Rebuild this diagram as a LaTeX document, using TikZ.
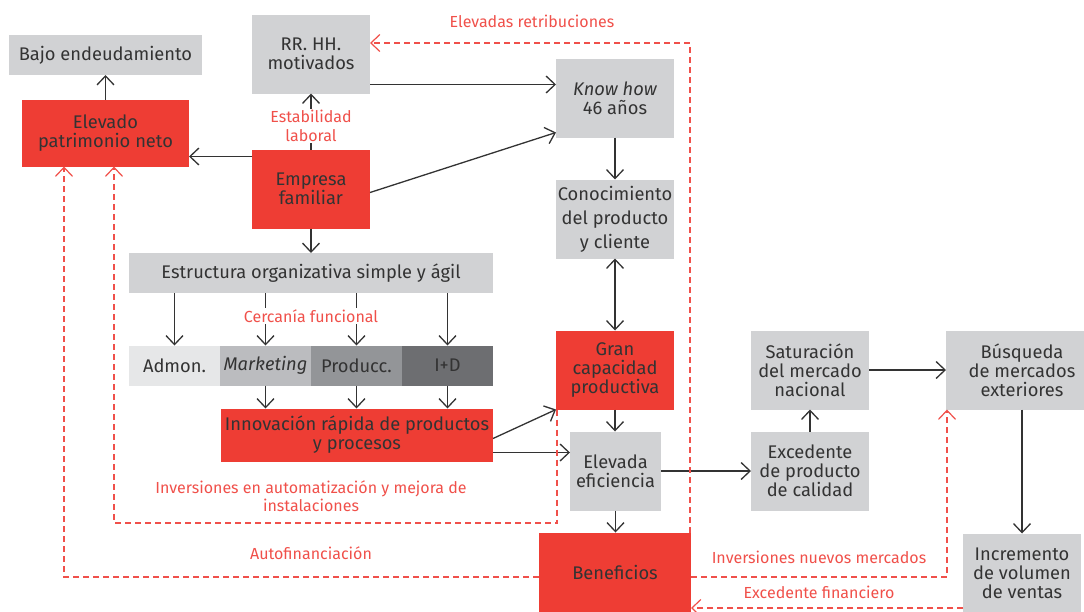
\documentclass[tikz,border=0pt]{standalone}
\usepackage{fontspec}
\setmainfont{Fira Sans}
\usetikzlibrary{arrows.meta,calc}
\definecolor{txt}{HTML}{333333}
\definecolor{boxred}{HTML}{EE3D34}
\definecolor{lblred}{HTML}{F0504A}
\definecolor{gboxc}{HTML}{D1D2D4}
\definecolor{cadm}{HTML}{E6E7E8}
\definecolor{cmkt}{HTML}{BBBCBF}
\definecolor{cprod}{HTML}{939598}
\definecolor{cid}{HTML}{6D6E71}
\begin{document}
\begin{tikzpicture}[x=1pt,y=-1pt,
  base/.style={inner sep=0pt, outer sep=0pt, align=center, text=txt, font=\fontsize{18.3}{19}\selectfont},
  gb/.style={base, fill=gboxc},
  rb/.style={base, fill=boxred},
  lbl/.style={text=lblred, font=\fontsize{16}{18.5}\selectfont, align=center, inner sep=1.5pt},
  tipa/.tip={Straight Barb[length=9pt,width=17pt]},
  arr/.style={draw=txt, line width=1.3pt, -tipa},
  rarr/.style={draw=lblred, line width=1.2pt, dash pattern=on 6pt off 4pt, -tipa},
]
\useasboundingbox (0,0) rectangle (1084,611);
% boxes
\node[gb, minimum width=193pt, minimum height=40pt] (bajo) at (105.5,55) {Bajo endeudamiento};
\node[rb, minimum width=167pt, minimum height=67pt] (elev) at (105.5,133) {Elevado\\patrimonio neto};
\node[gb, minimum width=118pt, minimum height=79pt] (rrhh) at (311,54) {RR. HH.\\motivados};
\node[rb, minimum width=118pt, minimum height=79pt] (emp) at (311,189) {Empresa\\familiar};
\node[gb, minimum width=364pt, minimum height=40pt] (estr) at (311,273) {Estructura organizativa simple y ágil};
\node[base, fill=cadm, minimum width=91pt, minimum height=40pt] (adm) at (174.5,365.5) {Admon.};
\node[base, fill=cmkt, minimum width=91pt, minimum height=40pt] (mkt) at (265.5,365.5) {\itshape Marketing};
\node[base, fill=cprod, minimum width=91pt, minimum height=40pt] (prod) at (356.5,365.5) {Producc.};
\node[base, fill=cid, minimum width=91pt, minimum height=40pt] (id) at (447.5,365.5) {I+D};
\node[rb, minimum width=272pt, minimum height=53pt] (inn) at (357,435) {Innovación rápida de productos\\y procesos};
\node[gb, minimum width=118pt, minimum height=79pt] (know) at (615,98) {\itshape Know how\\46 años};
\node[gb, minimum width=118pt, minimum height=79pt, font=\fontsize{18.3}{24}\selectfont] (cono) at (615,219) {Conocimiento\\del producto\\y cliente};
\node[rb, minimum width=118pt, minimum height=79pt] (gran) at (615,370) {Gran\\capacidad\\productiva};
\node[gb, minimum width=91pt, minimum height=79pt] (efic) at (615.5,471) {Elevada\\eficiencia};
\node[rb, minimum width=152pt, minimum height=79pt] (benef) at (615,572) {Beneficios};
\node[gb, minimum width=118pt, minimum height=79pt] (sat) at (810,370) {Saturación\\del mercado\\nacional};
\node[gb, minimum width=118pt, minimum height=79pt] (exc) at (810,471) {Excedente\\de producto\\de calidad};
\node[gb, minimum width=152pt, minimum height=79pt] (busq) at (1022,370) {Búsqueda\\de mercados\\exteriores};
\node[gb, minimum width=118pt, minimum height=79pt] (incr) at (1022,573) {Incremento\\de volumen\\de ventas};
% dark connectors
\draw[arr] (elev.north) -- (bajo.south);
\draw[arr] ([yshift=-7pt]emp.north west) -- ([yshift=-7pt]emp.north west -| elev.east);
\draw[arr] (emp.north) -- (rrhh.south);
\node[lbl, fill=white] (estab) at (311,126) {Estabilidad\\laboral};
\draw[arr] ([yshift=9pt]rrhh.south east) -- ([yshift=9pt]rrhh.south east -| know.west);
\draw[arr] ([yshift=-3.5pt]emp.east) -- ([yshift=5pt]know.south west);
\draw[arr] (emp.south) -- (estr.north);
\foreach \n in {adm,mkt,prod,id} \draw[arr] (estr.south -| \n.north) -- (\n.north);
\node[lbl, fill=white] (cerc) at (311,316) {Cercanía funcional};
\foreach \n in {mkt,prod,id} \draw[arr] (\n.south) -- (\n.south |- inn.north);
\draw[arr] ([yshift=-3.5pt]inn.east) -- (gran.south west);
\draw[arr] ([yshift=-21pt]efic.north west -| inn.east) -- ([yshift=-21pt]efic.north west);
\draw[arr] (know.south) -- (cono.north);
\draw[arr, tipa-tipa] (gran.north) -- (cono.south);
\draw[arr] (gran.south) -- (gran.south |- efic.north);
\draw[arr] (efic.south) -- (efic.south |- benef.north);
\draw[arr] (efic.east) -- (efic.east -| exc.west);
\draw[arr] (exc.north) -- (sat.south);
\draw[arr] (sat.east) -- (busq.west);
\draw[arr] (busq.south) -- (incr.north);
% red dashed loops
\coordinate (rt) at (690,43);
\draw[rarr] ([xshift=-1pt]benef.north east) -- ([xshift=-1pt]benef.north east |- rt) -- (rt -| rrhh.east);
\node[lbl] (lret) at (532,21) {Elevadas retribuciones};
\coordinate (ia) at (557,523);
\coordinate (ib) at (114,523);
\draw[rarr] ([xshift=1pt]gran.south west) -- (ia) -- (ib) -- (ib |- elev.south);
\node[lbl] (linv) at (311,496) {Inversiones en automatización y mejora de\\instalaciones};
\coordinate (af) at (64,577);
\draw[rarr] (benef.west |- af) -- (af) -- (af |- elev.south);
\node[lbl] (lauto) at (311,553) {Autofinanciación};
\coordinate (nm) at (947,577);
\draw[rarr] (benef.east |- nm) -- (nm) -- (nm |- busq.south);
\node[lbl] (lnm) at (819,557) {Inversiones nuevos mercados};
\coordinate (ef) at (0,608);
\draw[rarr] (incr.west |- ef) -- (benef.east |- ef);
\node[lbl] (lef) at (819,592) {Excedente financiero};
\end{tikzpicture}
\end{document}
